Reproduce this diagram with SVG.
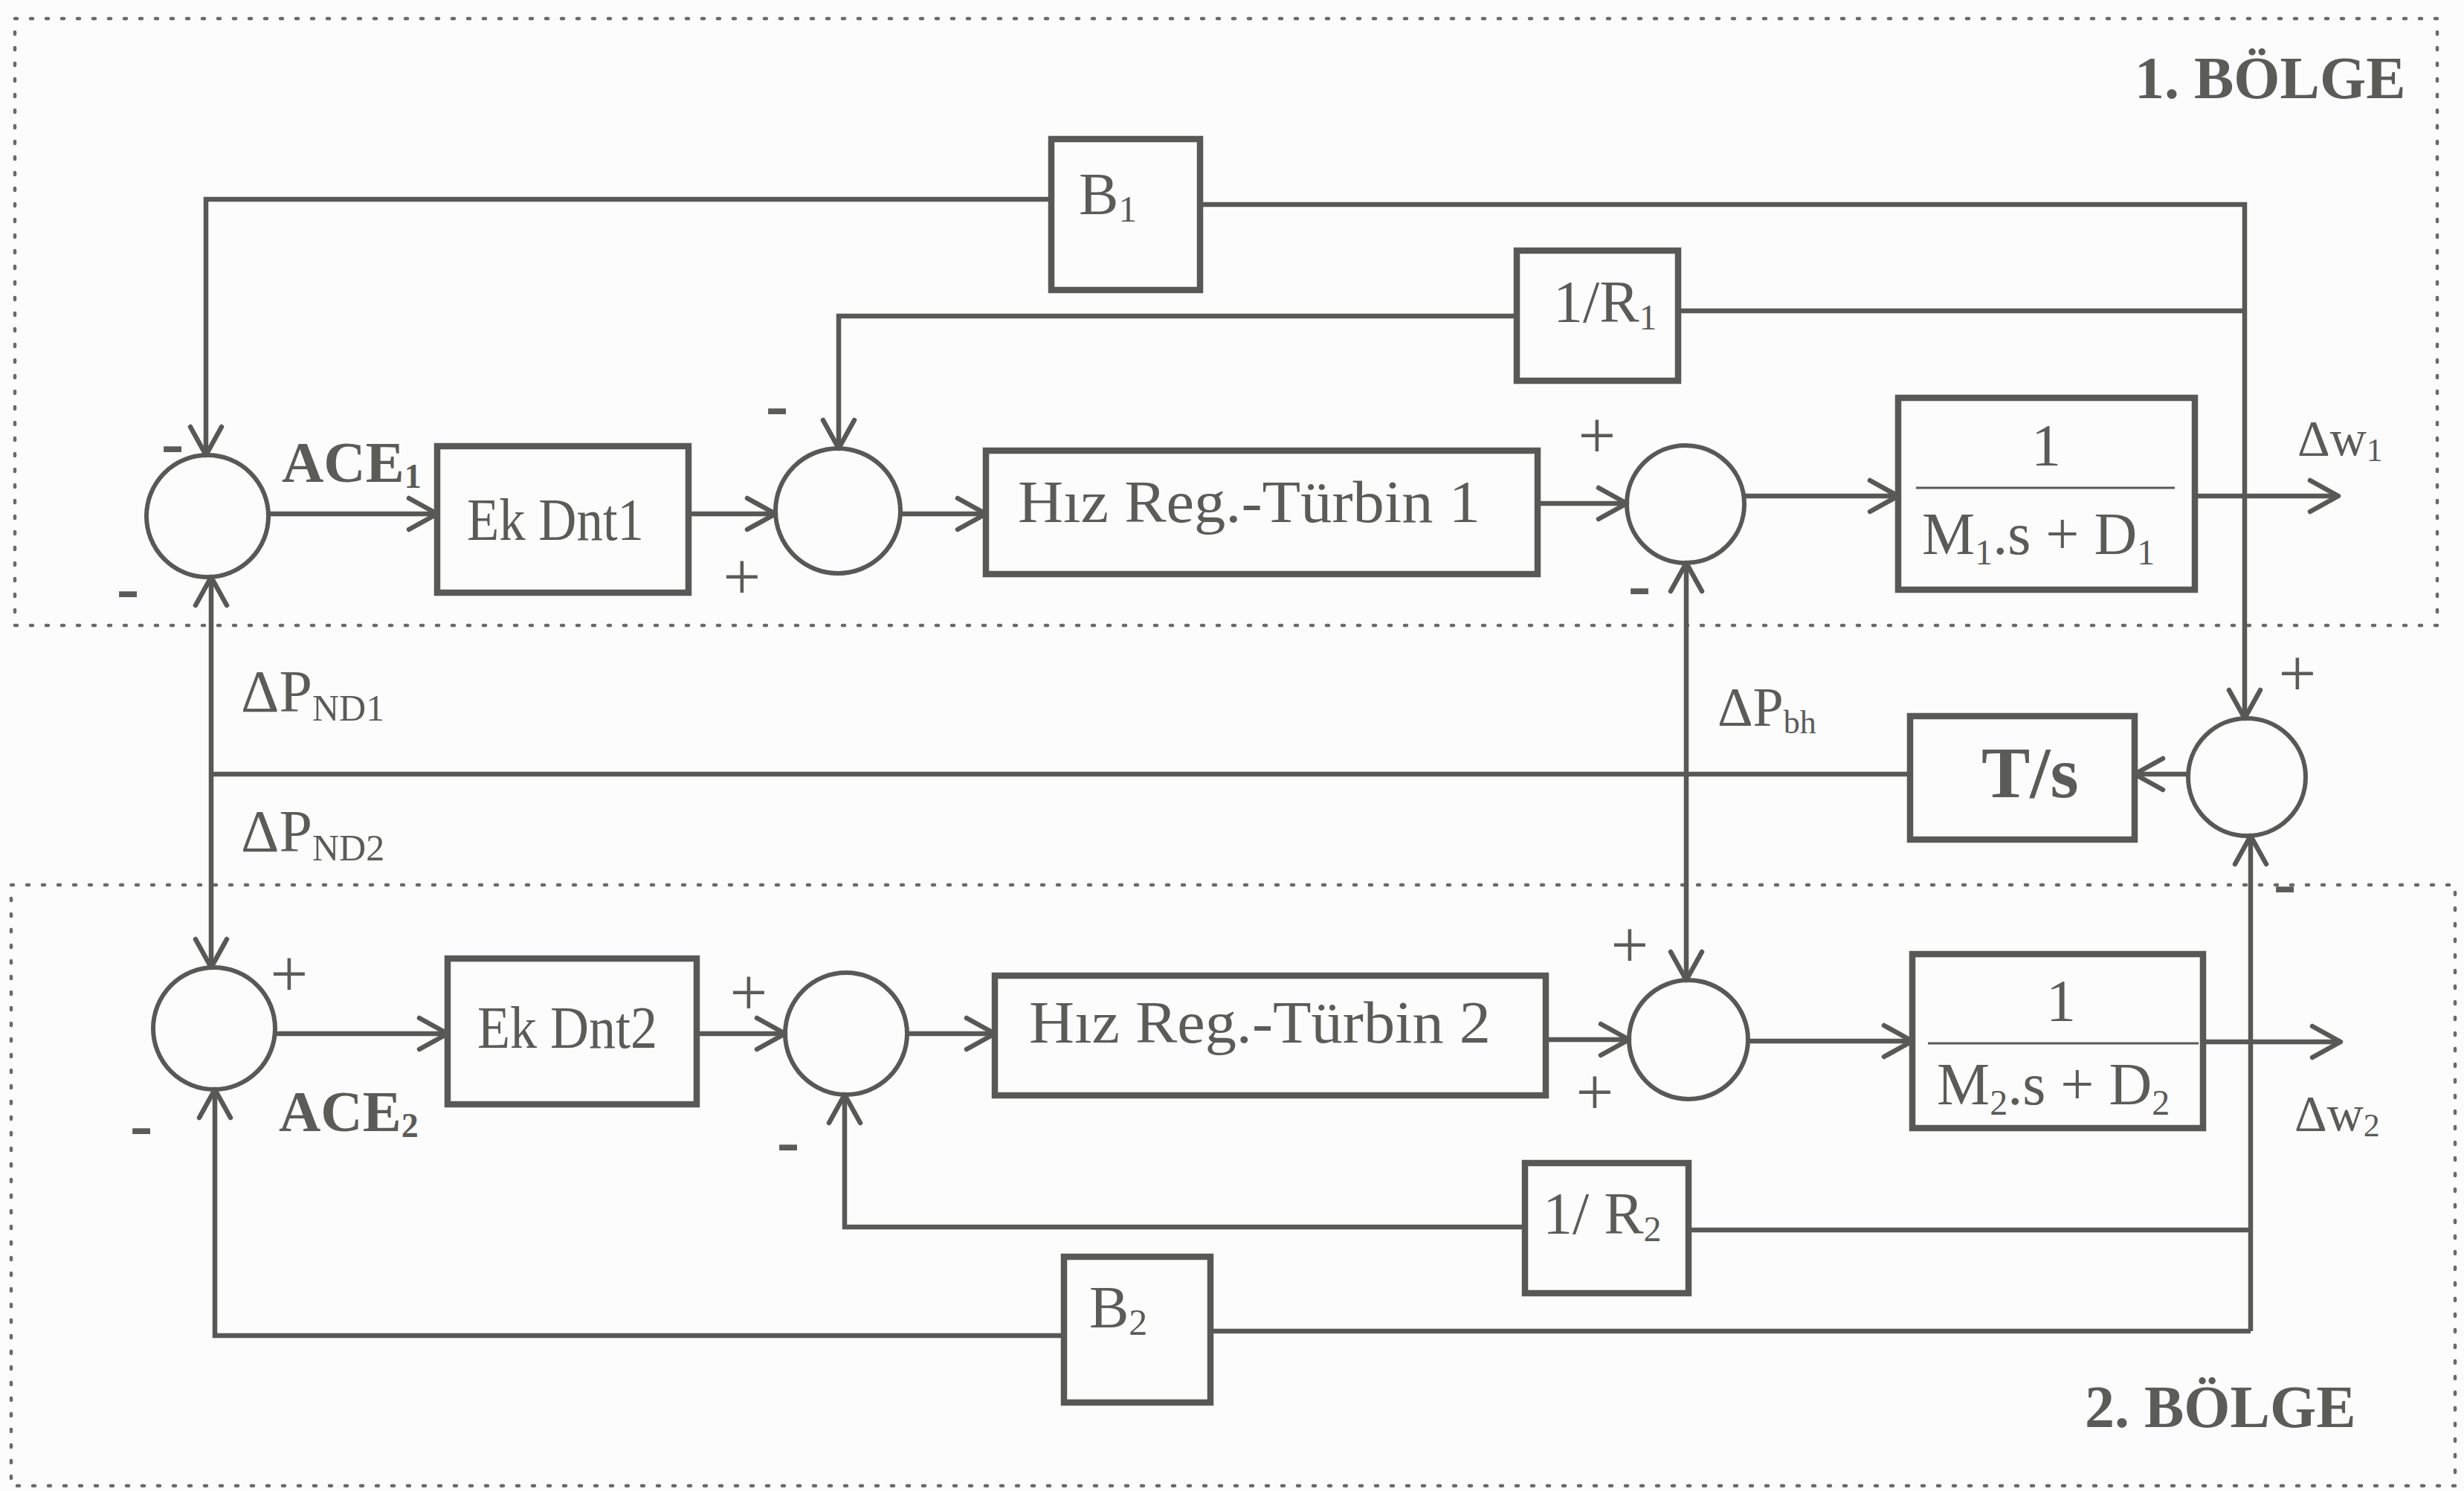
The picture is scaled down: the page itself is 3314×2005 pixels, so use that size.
<svg xmlns="http://www.w3.org/2000/svg" width="3314" height="2005" viewBox="0 0 3314 2005">
<style>
.bg{fill:#fcfcfc}
.region{fill:none;stroke:#6a6a6a;stroke-width:4.5;stroke-dasharray:3 18;stroke-linecap:round}
.box{fill:none;stroke:#585856;stroke-width:8.5}
.sum{fill:none;stroke:#585856;stroke-width:6}
.ln{fill:none;stroke:#585856;stroke-width:6.5}
.fr{stroke:#585856;stroke-width:3}
text{font-family:"Liberation Serif","Times New Roman",serif;fill:#5b5b58}
.t{font-size:80px}
.b{font-weight:bold}
.pl{font-size:90px;text-anchor:middle}
.mn{font-size:92px;font-weight:bold;text-anchor:middle}
.mid{text-anchor:middle}
</style>
<defs>
<marker id="arr" viewBox="-44 -26 50 52" refX="0" refY="0" markerWidth="50" markerHeight="52" markerUnits="userSpaceOnUse" orient="auto-start-reverse">
<path d="M-38,-21 L0,0 L-38,21" fill="none" stroke="#585856" stroke-width="6.5" stroke-linejoin="round" stroke-linecap="round"/>
</marker>
</defs>
<rect class="bg" x="0" y="0" width="3314" height="2005"/>

<g id="regions">
<rect class="region" x="20" y="25" width="3258" height="816"/>
<rect class="region" x="15" y="1190" width="3287" height="808"/>
<text class="t b" x="2871" y="132" font-size="80">1. BÖLGE</text>
<text class="t b" x="2804" y="1919" font-size="82">2. BÖLGE</text>
</g>

<g id="connectors">
<path class="ln" d="M1414,268 H277 V612" marker-end="url(#arr)"/>
<path class="ln" d="M1614,275 H3019 V966" marker-end="url(#arr)"/>
<path class="ln" d="M3019,418 H2257"/>
<path class="ln" d="M2040,425 H1128 V603" marker-end="url(#arr)"/>
<path class="ln" d="M361,691 H588" marker-end="url(#arr)"/>
<path class="ln" d="M926,691 H1043" marker-end="url(#arr)"/>
<path class="ln" d="M1211,691 H1326" marker-end="url(#arr)"/>
<path class="ln" d="M2068,677 H2188" marker-end="url(#arr)"/>
<path class="ln" d="M2346,667 H2553" marker-end="url(#arr)"/>
<path class="ln" d="M2952,667 H3145" marker-end="url(#arr)"/>
<path class="ln" d="M2268,757 V1318" marker-start="url(#arr)" marker-end="url(#arr)"/>
<path class="ln" d="M2943,1041 H2871" marker-end="url(#arr)"/>
<path class="ln" d="M2569,1041 H284"/>
<path class="ln" d="M284,776 V1301" marker-start="url(#arr)" marker-end="url(#arr)"/>
<path class="ln" d="M370,1390 H602" marker-end="url(#arr)"/>
<path class="ln" d="M937,1390 H1056" marker-end="url(#arr)"/>
<path class="ln" d="M1220,1390 H1338" marker-end="url(#arr)"/>
<path class="ln" d="M2079,1398 H2191" marker-end="url(#arr)"/>
<path class="ln" d="M2351,1400 H2572" marker-end="url(#arr)"/>
<path class="ln" d="M2963,1401 H3148" marker-end="url(#arr)"/>
<path class="ln" d="M3027,1790 V1124" marker-end="url(#arr)"/>
<path class="ln" d="M3027,1654 H2271"/>
<path class="ln" d="M2051,1650 H1136 V1472" marker-end="url(#arr)"/>
<path class="ln" d="M3027,1790 H1628"/>
<path class="ln" d="M1431,1796 H289 V1465" marker-end="url(#arr)"/>
</g>

<g id="sum-ace1">
<circle class="sum" cx="279" cy="694" r="82"/>
<text class="mn" x="232" y="626">-</text>
<text class="mn" x="172" y="821">-</text>
</g>
<g id="sum-1b">
<circle class="sum" cx="1127" cy="687" r="84"/>
<text class="mn" x="1045" y="575">-</text>
<text class="pl" x="998" y="806">+</text>
</g>
<g id="sum-1c">
<circle class="sum" cx="2267" cy="678" r="79"/>
<text class="pl" x="2148" y="616">+</text>
<text class="mn" x="2205" y="817">-</text>
</g>
<g id="sum-tie">
<circle class="sum" cx="3022" cy="1045" r="79"/>
<text class="pl" x="3090" y="936">+</text>
<text class="mn" x="3073" y="1218">-</text>
</g>
<g id="sum-ace2">
<circle class="sum" cx="288" cy="1383" r="82"/>
<text class="pl" x="389" y="1340">+</text>
<text class="mn" x="190" y="1543">-</text>
</g>
<g id="sum-2b">
<circle class="sum" cx="1138" cy="1390" r="82"/>
<text class="pl" x="1007" y="1365">+</text>
<text class="mn" x="1060" y="1565">-</text>
</g>
<g id="sum-2c">
<circle class="sum" cx="2271" cy="1398" r="80"/>
<text class="pl" x="2192" y="1301">+</text>
<text class="pl" x="2145" y="1499">+</text>
</g>

<g id="box-b1">
<rect class="box" x="1414" y="187" width="200" height="203"/>
<text class="t" x="1451" y="288" font-size="84">B<tspan font-size="50" dy="10">1</tspan></text>
</g>
<g id="box-1r1">
<rect class="box" x="2040" y="337" width="217" height="175"/>
<text class="t" x="2089" y="433" font-size="80">1/R<tspan font-size="48" dy="10">1</tspan></text>
</g>
<g id="box-ekdnt1">
<rect class="box" x="588" y="600" width="338" height="197"/>
<text class="t" x="628" y="726" font-size="80" textLength="238" lengthAdjust="spacingAndGlyphs">Ek Dnt1</text>
</g>
<g id="box-hiz1">
<rect class="box" x="1326" y="606" width="742" height="166"/>
<text class="t" x="1369" y="702" font-size="86" textLength="622" lengthAdjust="spacingAndGlyphs">Hız Reg.-Türbin 1</text>
</g>
<g id="box-m1">
<rect class="box" x="2553" y="535" width="399" height="258"/>
<text class="t mid" x="2752" y="626">1</text>
<line class="fr" x1="2577" y1="656" x2="2925" y2="656"/>
<text class="t" x="2585" y="745">M<tspan font-size="48" dy="14">1</tspan><tspan dy="-14">.s + D</tspan><tspan font-size="48" dy="14">1</tspan></text>
</g>
<g id="box-ts">
<rect class="box" x="2569" y="963" width="302" height="166"/>
<text class="b" x="2665" y="1072" font-size="98">T/s</text>
</g>
<g id="box-ekdnt2">
<rect class="box" x="602" y="1289" width="335" height="196"/>
<text class="t" x="642" y="1409" font-size="80" textLength="242" lengthAdjust="spacingAndGlyphs">Ek Dnt2</text>
</g>
<g id="box-hiz2">
<rect class="box" x="1338" y="1312" width="741" height="161"/>
<text class="t" x="1384" y="1402" font-size="86" textLength="621" lengthAdjust="spacingAndGlyphs">Hız Reg.-Türbin 2</text>
</g>
<g id="box-m2">
<rect class="box" x="2572" y="1283" width="391" height="234"/>
<text class="t mid" x="2772" y="1373">1</text>
<line class="fr" x1="2593" y1="1403" x2="2957" y2="1403"/>
<text class="t" x="2605" y="1485">M<tspan font-size="48" dy="14">2</tspan><tspan dy="-14">.s + D</tspan><tspan font-size="48" dy="14">2</tspan></text>
</g>
<g id="box-1r2">
<rect class="box" x="2051" y="1564" width="220" height="175"/>
<text class="t" x="2075" y="1659" font-size="80">1/ R<tspan font-size="48" dy="10">2</tspan></text>
</g>
<g id="box-b2">
<rect class="box" x="1431" y="1690" width="197" height="196"/>
<text class="t" x="1465" y="1785" font-size="84">B<tspan font-size="50" dy="10">2</tspan></text>
</g>

<g id="labels">
<text class="b" x="379" y="648" font-size="78">ACE<tspan font-size="46" dy="8">1</tspan></text>
<text class="b" x="375" y="1521" font-size="78">ACE<tspan font-size="46" dy="8">2</tspan></text>
<text x="324" y="957" font-size="80">ΔP<tspan font-size="50" dy="12">ND1</tspan></text>
<text x="324" y="1145" font-size="80">ΔP<tspan font-size="50" dy="12">ND2</tspan></text>
<text x="2310" y="976" font-size="74">ΔP<tspan font-size="44" dy="10">bh</tspan></text>
<text x="3090" y="612" font-size="68">Δw<tspan font-size="44" dy="8">1</tspan></text>
<text x="3086" y="1520" font-size="68">Δw<tspan font-size="44" dy="8">2</tspan></text>
</g>
</svg>
